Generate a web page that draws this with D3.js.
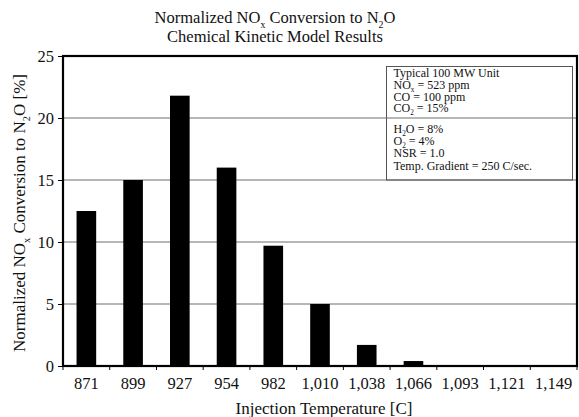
<!DOCTYPE html>
<html><head><meta charset="utf-8">
<script src="https://cdn.jsdelivr.net/npm/d3@7"></script>
<style>body{margin:0;background:#fff}svg{display:block;font-family:"Liberation Serif","Times New Roman",serif}</style>
</head><body><svg id="c" width="579" height="417"></svg>
<script>
const categories = ["871","899","927","954","982","1,010","1,038","1,066","1,093","1,121","1,149"];
const values = [12.5, 15.0, 21.8, 16.0, 9.7, 5.0, 1.7, 0.4, 0, 0, 0];
const yTicks = [0, 5, 10, 15, 20, 25];
const legendLines = [
  [["Typical 100 MW Unit"]],
  [["NO"],["x","sub"],[" = 523 ppm"]],
  [["CO = 100 ppm"]],
  [["CO"],["2","sub"],[" = 15%"]],
  [["H"],["2","sub"],["O = 8%"]],
  [["O"],["2","sub"],[" = 4%"]],
  [["NSR = 1.0"]],
  [["Temp. Gradient = 250 C/sec."]]
];

const svg = d3.select("#c");
const L = 63, R = 577, T = 56, B = 366;
const x = d3.scaleBand().domain(categories).range([L, R]).paddingInner(0.58).paddingOuter(0.29);
const y = d3.scaleLinear().domain([0, 25]).range([B, T]);

function richText(sel, parts, size) {
  let shifted = 0;
  parts.forEach(p => {
    const ts = sel.append("tspan");
    if (p[1] === "sub") {
      ts.attr("dy", size*0.28 - shifted).attr("font-size", size*0.6);
      shifted = size*0.28;
    } else {
      if (shifted) ts.attr("dy", -shifted);
      shifted = 0;
    }
    ts.text(p[0]);
  });
}

// gridlines
svg.append("g").selectAll("line").data(yTicks.filter(d => d > 0 && d < 25)).join("line")
  .attr("x1", L).attr("x2", R).attr("y1", d => y(d)).attr("y2", d => y(d))
  .attr("stroke", "#6f6f6f").attr("stroke-width", 1);

// bars
svg.append("g").selectAll("rect").data(values).join("rect")
  .attr("x", (d,i) => x(categories[i])).attr("width", x.bandwidth())
  .attr("y", d => y(d)).attr("height", d => B - y(d))
  .attr("fill", "#000");

// legend box
const lg = svg.append("g");
lg.append("rect").attr("x", 386.5).attr("y", 66.5).attr("width", 186).attr("height", 113.5)
  .attr("fill", "none").attr("stroke", "#555").attr("stroke-width", 1);
const baselines = [77, 89, 100.5, 112, 132.5, 144.5, 157, 169.5];
legendLines.forEach((parts, i) => {
  const t = lg.append("text").attr("x", 393.5).attr("y", baselines[i]).attr("font-size", 12).attr("fill", "#111");
  richText(t, parts, 12);
});

// frame
svg.append("rect").attr("x", L).attr("y", T).attr("width", R - L).attr("height", B - T)
  .attr("fill", "none").attr("stroke", "#000").attr("stroke-width", 2.2);

// y axis
const ya = svg.append("g").attr("transform", `translate(${L},0)`)
  .call(d3.axisLeft(y).tickValues(yTicks).tickSize(5).tickPadding(4).tickFormat(d3.format("d")));
ya.select(".domain").remove();
ya.selectAll("text").attr("font-size", 16.5).attr("font-family", "Liberation Serif").attr("fill", "#111");
ya.selectAll("line").attr("stroke", "#000");

// x axis
const xa = svg.append("g").attr("transform", `translate(0,${B})`)
  .call(d3.axisBottom(x).tickSize(0).tickPadding(11));
xa.select(".domain").remove();
xa.selectAll("text").attr("font-size", 16.5).attr("font-family", "Liberation Serif").attr("fill", "#111");
const edges = d3.range(categories.length + 1).map(i => L + i * x.step());
svg.append("g").selectAll("line").data(edges).join("line")
  .attr("x1", d => d).attr("x2", d => d).attr("y1", B).attr("y2", B + 4)
  .attr("stroke", "#000");

// titles
const t1 = svg.append("text").attr("x", 275).attr("y", 23).attr("text-anchor", "middle").attr("font-size", 16.5).attr("fill", "#111");
richText(t1, [["Normalized NO"],["x","sub"],[" Conversion to N"],["2","sub"],["O"]], 16.5);
svg.append("text").attr("x", 275).attr("y", 42).attr("text-anchor", "middle").attr("font-size", 16.5).attr("fill", "#111")
  .text("Chemical Kinetic Model Results");

svg.append("text").attr("x", 324).attr("y", 414).attr("text-anchor", "middle").attr("font-size", 17).attr("fill", "#111")
  .text("Injection Temperature [C]");

const yl = svg.append("text").attr("transform", "translate(25,213) rotate(-90)").attr("text-anchor", "middle")
  .attr("font-size", 17).attr("fill", "#111");
richText(yl, [["Normalized NO"],["x","sub"],[" Conversion to N"],["2","sub"],["O [%]"]], 17);
</script></body></html>
